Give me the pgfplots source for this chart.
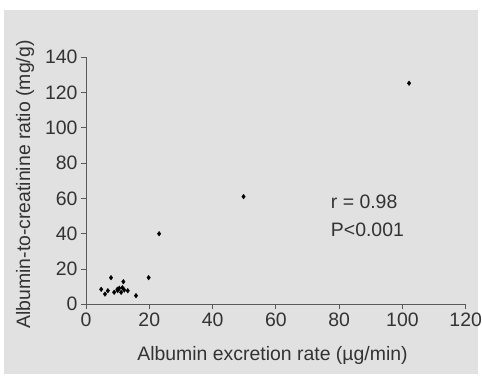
\documentclass[border=0pt]{standalone}
\usepackage{pgfplots}
\pgfplotsset{compat=1.18}
\usepackage{fontspec}
\setmainfont{Liberation Sans}
\definecolor{bg}{HTML}{E1E1E1}
\definecolor{txt}{HTML}{333333}
\begin{document}
\begin{tikzpicture}[x=1bp,y=1bp]
\path[use as bounding box] (-86bp,-74.7bp) rectangle (396bp,304.3bp);
\fill[bg] (-82bp,-69.7bp) rectangle (392bp,294.3bp);
\begin{axis}[
  at={(0,0)}, anchor=south west,
  scale only axis, width=379.7bp, height=247bp,
  xmin=0, xmax=120, ymin=0, ymax=140,
  xtick={0,20,...,120}, ytick={0,20,...,140},
  axis lines*=left,
  axis line style={draw=gray!70!black, line width=0.8pt},
  tick style={draw=gray!70!black, line width=0.8pt},
  tick align=outside, major tick length=5bp,
  tick label style={font=\fontsize{19.5}{22}\selectfont, text=txt},
  /pgf/number format/assume math mode=true,
  clip=false,
]
\addplot[only marks, mark=diamond*, mark size=2.3pt, black] coordinates {
(102.1,125.3) (49.8,61.0) (23.1,40.0) (19.8,15.1) (7.9,15.1) (11.8,12.8)
(15.8,4.9) (4.8,8.5) (6.0,5.8) (6.9,7.7) (8.9,6.8) (9.9,8.5) (10.5,9.1)
(11.1,6.8) (12.1,8.1) (13.2,7.7) (10.0,7.8) (11.5,9.4)
};
\node[anchor=west, font=\fontsize{19.5}{22}\selectfont, text=txt] at (axis cs:76.3,58.2) {r = 0.98};
\node[anchor=west, font=\fontsize{19.5}{22}\selectfont, text=txt] at (axis cs:76.3,42.1) {P<0.001};
\end{axis}
\node[font=\fontsize{19.5}{22}\selectfont, text=txt] at (186.5bp,-50.7bp) {Albumin excretion rate (µg/min)};
\node[rotate=90, font=\fontsize{19.5}{22}\selectfont, text=txt] at (-61bp,119.8bp) {Albumin-to-creatinine ratio (mg/g)};
\end{tikzpicture}
\end{document}
